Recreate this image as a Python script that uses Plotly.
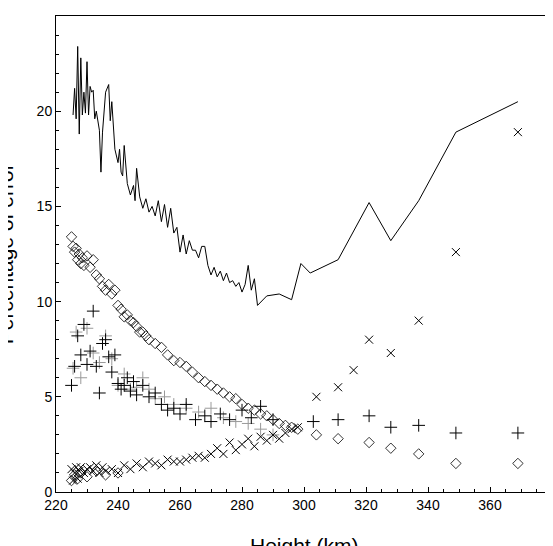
import plotly.graph_objects as go

# solid line
line_x = [225.5, 226, 226.5, 227, 227.5, 228, 228.5, 229, 229.5, 230, 230.5, 231, 231.5, 232, 232.5,
          233, 234, 234.5, 235, 236, 237, 237.5, 238, 239, 240, 240.5, 241, 241.5, 242, 243, 244,
          245, 245.5, 246, 247, 248, 249, 250, 251, 252, 253, 254, 255, 256, 257, 258, 259, 260,
          261, 262, 263, 264, 265, 266, 267, 268, 269, 270, 271, 272, 273, 274, 275, 276, 277, 278,
          279, 280, 281, 282, 283, 284, 285, 288, 292, 296, 299, 302, 311, 321, 328, 337, 349, 369]
line_y = [19.8, 21.2, 19.6, 23.4, 18.8, 22.8, 19.8, 21.0, 19.9, 22.6, 19.8, 21.3, 21.0, 21.1, 19.6,
          20.0, 19.0, 16.8, 18.9, 21.0, 21.4, 19.5, 20.5, 18.0, 17.3, 18.0, 16.8, 16.6, 18.2, 16.2, 15.6,
          16.1, 15.3, 17.0, 15.5, 14.9, 15.4, 14.7, 15.0, 14.5, 15.3, 14.2, 15.1, 13.9, 14.9, 13.6, 13.9, 12.6,
          13.5, 12.5, 13.2, 12.7, 12.7, 12.3, 12.9, 12.9, 11.9, 11.4, 11.8, 11.3, 11.6, 11.1, 11.5, 11.0, 11.1, 10.8,
          11.0, 10.5, 10.9, 11.9, 10.6, 11.2, 9.8, 10.3, 10.4, 10.1, 12.0, 11.5, 12.2, 15.2, 13.2, 15.3, 18.9, 20.5]

# diamonds
dia_x = [225, 225.5, 226, 226.5, 227, 227.5, 228, 228.5, 229, 230, 231, 232, 233, 234, 235, 236, 237,
         238, 239, 240, 241, 242, 243, 244, 245, 246, 247, 248, 249, 250, 252, 254, 256, 258, 260,
         262, 264, 266, 268, 270, 272, 274, 276, 278, 280, 282, 284, 286, 288, 290, 292, 294, 296,
         298, 304, 311, 321, 328, 337, 349, 369,
         225, 226, 227, 228, 230, 233, 236, 240]
dia_y = [13.4, 12.9, 12.6, 12.8, 12.2, 12.5, 12.0, 12.3, 11.9, 12.4, 11.8, 12.2, 11.4, 11.2, 10.8, 10.6, 10.9,
         10.4, 10.6, 9.8, 9.6, 9.2, 9.3, 9.0, 8.9, 8.7, 8.4, 8.4, 8.2, 8.0, 7.8, 7.6, 7.2, 6.9, 6.8,
         6.6, 6.3, 6.0, 5.8, 5.6, 5.4, 5.2, 5.0, 4.9, 4.6, 4.4, 4.3, 4.1, 4.0, 3.8, 3.6, 3.5, 3.4,
         3.3, 3.0, 2.8, 2.6, 2.3, 2.0, 1.5, 1.5,
         0.6, 0.9, 0.7, 1.0, 0.8, 1.1, 0.9, 1.0]

# black pluses
plus_x = [225, 226, 227, 228, 229, 230, 231, 232, 233, 234, 235, 236, 237, 238, 239, 240, 241, 242,
          243, 244, 245, 246, 248, 250, 252, 254, 256, 258, 260, 262, 265, 268, 270, 273, 276, 280,
          283, 286, 290, 303, 311, 321, 328, 337, 349, 369]
plus_y = [5.6, 6.6, 8.2, 7.2, 8.8, 6.7, 7.4, 9.5, 6.6, 5.2, 7.8, 8.0, 7.1, 6.3, 7.2, 5.7, 5.4, 5.6,
          6.0, 5.3, 5.8, 5.1, 5.6, 5.0, 5.2, 4.6, 4.3, 4.4, 4.1, 4.6, 3.8, 4.0, 3.7, 4.1, 3.8, 4.3,
          3.9, 4.5, 3.8, 3.7, 3.8, 4.0, 3.4, 3.5, 3.1, 3.1]

# grey pluses
gplus_x = [225.5, 226.5, 228, 230, 232, 234, 236, 238, 240, 242, 244, 246, 248, 250, 252, 255, 258,
           262, 266, 270, 274, 278, 282, 286, 290]
gplus_y = [6.5, 8.4, 6.0, 8.6, 7.3, 6.8, 8.2, 7.0, 5.6, 6.2, 5.4, 5.5, 6.0, 5.4, 4.9, 5.0, 4.6,
           4.4, 4.2, 4.4, 3.9, 3.7, 3.6, 3.3, 3.0]

# crosses
x_x = [225, 225.5, 226, 226.5, 227, 227.5, 228, 229, 230, 231, 232, 233, 234, 235, 236, 238, 240,
       242, 244, 246, 248, 250, 252, 254, 256, 258, 260, 262, 264, 266, 268, 270, 272, 274, 276,
       278, 280, 282, 284, 286, 288, 290, 292, 294, 296, 298, 304, 311, 316, 321, 328, 337, 349, 369]
x_y = [1.2, 0.6, 1.0, 1.3, 0.7, 1.1, 1.3, 1.0, 1.2, 1.3, 1.1, 1.4, 1.0, 1.3, 1.1, 1.2, 1.0,
       1.4, 1.2, 1.5, 1.3, 1.6, 1.5, 1.4, 1.7, 1.6, 1.6, 1.7, 1.8, 1.9, 1.8, 2.0, 2.3, 2.0, 2.6,
       2.2, 2.5, 2.8, 2.4, 2.9, 2.7, 3.0, 2.8, 3.1, 3.3, 3.4, 5.0, 5.5, 6.4, 8.0, 7.3, 9.0, 12.6, 18.9]

fig = go.Figure()
fig.add_trace(go.Scatter(x=line_x, y=line_y, mode="lines", line=dict(color="black", width=1)))
fig.add_trace(go.Scatter(x=gplus_x, y=gplus_y, mode="markers",
                         marker=dict(symbol="cross-thin", size=9, line=dict(color="#999", width=1))))
fig.add_trace(go.Scatter(x=plus_x, y=plus_y, mode="markers",
                         marker=dict(symbol="cross-thin", size=9, line=dict(color="black", width=1))))
fig.add_trace(go.Scatter(x=dia_x, y=dia_y, mode="markers",
                         marker=dict(symbol="diamond-open", size=8, color="black", line=dict(width=0.8))))
fig.add_trace(go.Scatter(x=x_x, y=x_y, mode="markers",
                         marker=dict(symbol="x-thin", size=8, line=dict(color="black", width=1))))

axis = dict(showgrid=False, zeroline=False, showline=True, linecolor="black", linewidth=1,
            mirror=True, ticks="inside", ticklen=5, tickcolor="black", automargin=False,
            tickfont=dict(size=14, color="black"),
            minor=dict(ticks="inside", ticklen=3, tickcolor="black"))
fig.update_layout(
    width=553, height=546, showlegend=False,
    plot_bgcolor="white", paper_bgcolor="white",
    font=dict(family="Liberation Sans, Arial, sans-serif", color="black"),
    margin=dict(l=48, r=9, t=8, b=62),
    xaxis=dict(axis, range=[220, 380], dtick=20, minor=dict(axis["minor"], dtick=5)),
    yaxis=dict(axis, range=[0, 25], dtick=5, minor=dict(axis["minor"], dtick=1)),
    annotations=[
        dict(text="Height (km)", x=0.5, y=-0.085, xref="paper", yref="paper",
             yanchor="top", showarrow=False, font=dict(size=21)),
        dict(text="Percentage of error", x=-0.075, y=0.5, xref="paper", yref="paper",
             xanchor="right", textangle=-90, showarrow=False, font=dict(size=21)),
    ],
)
fig.write_html("out.html")
